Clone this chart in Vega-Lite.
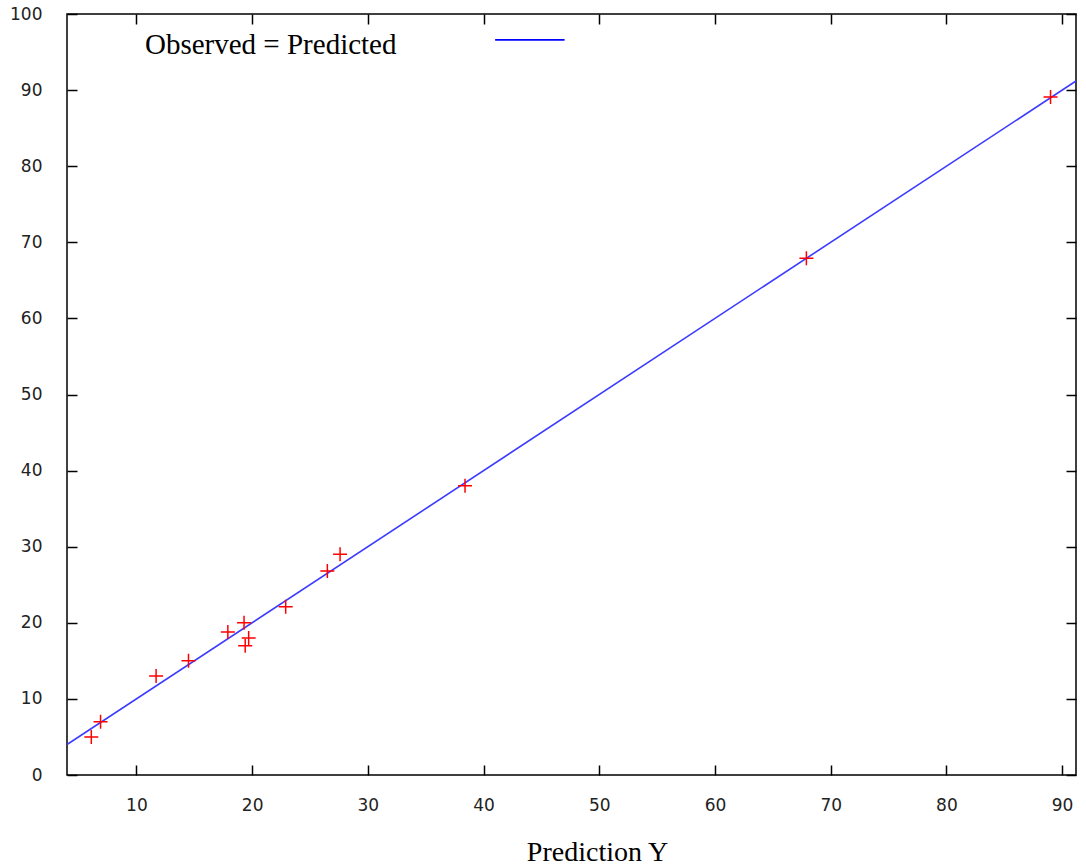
{
  "$schema": "https://vega.github.io/schema/vega-lite/v6.json",
  "width": 1009,
  "height": 761,
  "autosize": {"type": "none"},
  "padding": {"left": 67, "top": 14, "right": 10, "bottom": 90},
  "background": "white",
  "config": {
    "view": {"stroke": "black", "strokeWidth": 1.5},
    "axis": {"grid": false, "domain": false, "labelFont": "DejaVu Sans", "labelFontSize": 17, "labelColor": "#222", "tickColor": "black", "tickWidth": 1.5}
  },
  "datasets": {
    "pts": [
      {"pred": 6.1, "obs": 5.0},
      {"pred": 6.9, "obs": 7.0},
      {"pred": 11.7, "obs": 13.0},
      {"pred": 14.5, "obs": 15.0},
      {"pred": 17.9, "obs": 18.8},
      {"pred": 19.3, "obs": 20.0},
      {"pred": 19.7, "obs": 18.0},
      {"pred": 19.4, "obs": 17.0},
      {"pred": 22.9, "obs": 22.1},
      {"pred": 26.5, "obs": 26.8},
      {"pred": 27.6, "obs": 29.0},
      {"pred": 38.4, "obs": 38.0},
      {"pred": 67.9, "obs": 67.9},
      {"pred": 89.0, "obs": 89.1}
    ],
    "fit": [
      {"pred": 4.0, "obs": 4.0},
      {"pred": 91.2, "obs": 91.2}
    ],
    "legline": [
      {"x1": 41.0, "x2": 47.0, "y": 96.6}
    ],
    "legtext": [
      {"x": 10.74, "y": 95.9, "label": "Observed = Predicted"}
    ]
  },
  "layer": [
    {
      "data": {"name": "fit"},
      "mark": {"type": "line", "color": "#3b3bff", "strokeWidth": 1.6, "clip": true},
      "encoding": {
        "x": {"field": "pred", "type": "quantitative", "scale": {"domain": [4, 91.2], "nice": false, "zero": false},
          "axis": {"orient": "bottom", "values": [10,20,30,40,50,60,70,80,90], "offset": -10, "tickSize": 10, "labelPadding": 22, "title": "Prediction  Y", "titleFont": "Liberation Serif", "titleFontSize": 28, "titleFontWeight": "normal", "titleColor": "black", "titlePadding": 25, "titleX": 530}},
        "y": {"field": "obs", "type": "quantitative", "scale": {"domain": [0, 100], "nice": false},
          "axis": {"orient": "left", "values": [0,10,20,30,40,50,60,70,80,90,100], "offset": -10, "tickSize": 10, "labelPadding": 25, "title": null}}
      }
    },
    {
      "data": {"name": "pts"},
      "mark": {"type": "point", "shape": "M-1,0H1M0,-1V1", "size": 196, "filled": false, "stroke": "red", "strokeWidth": 1.5, "opacity": 1},
      "encoding": {
        "x": {"field": "pred", "type": "quantitative", "axis": {"orient": "top", "values": [10,20,30,40,50,60,70,80,90], "offset": -10, "tickSize": 10, "labels": false, "title": null}},
        "y": {"field": "obs", "type": "quantitative", "axis": {"orient": "right", "values": [0,10,20,30,40,50,60,70,80,90,100], "offset": -10, "tickSize": 10, "labels": false, "title": null}}
      }
    },
    {
      "data": {"name": "legline"},
      "mark": {"type": "rule", "color": "blue", "strokeWidth": 1.6},
      "encoding": {
        "x": {"field": "x1", "type": "quantitative", "axis": null},
        "x2": {"field": "x2"},
        "y": {"field": "y", "type": "quantitative", "axis": null}
      }
    },
    {
      "data": {"name": "legtext"},
      "mark": {"type": "text", "font": "Liberation Serif", "fontSize": 29, "align": "left", "baseline": "middle", "color": "black"},
      "encoding": {
        "x": {"field": "x", "type": "quantitative", "axis": null},
        "y": {"field": "y", "type": "quantitative", "axis": null},
        "text": {"field": "label"}
      }
    }
  ]
}
